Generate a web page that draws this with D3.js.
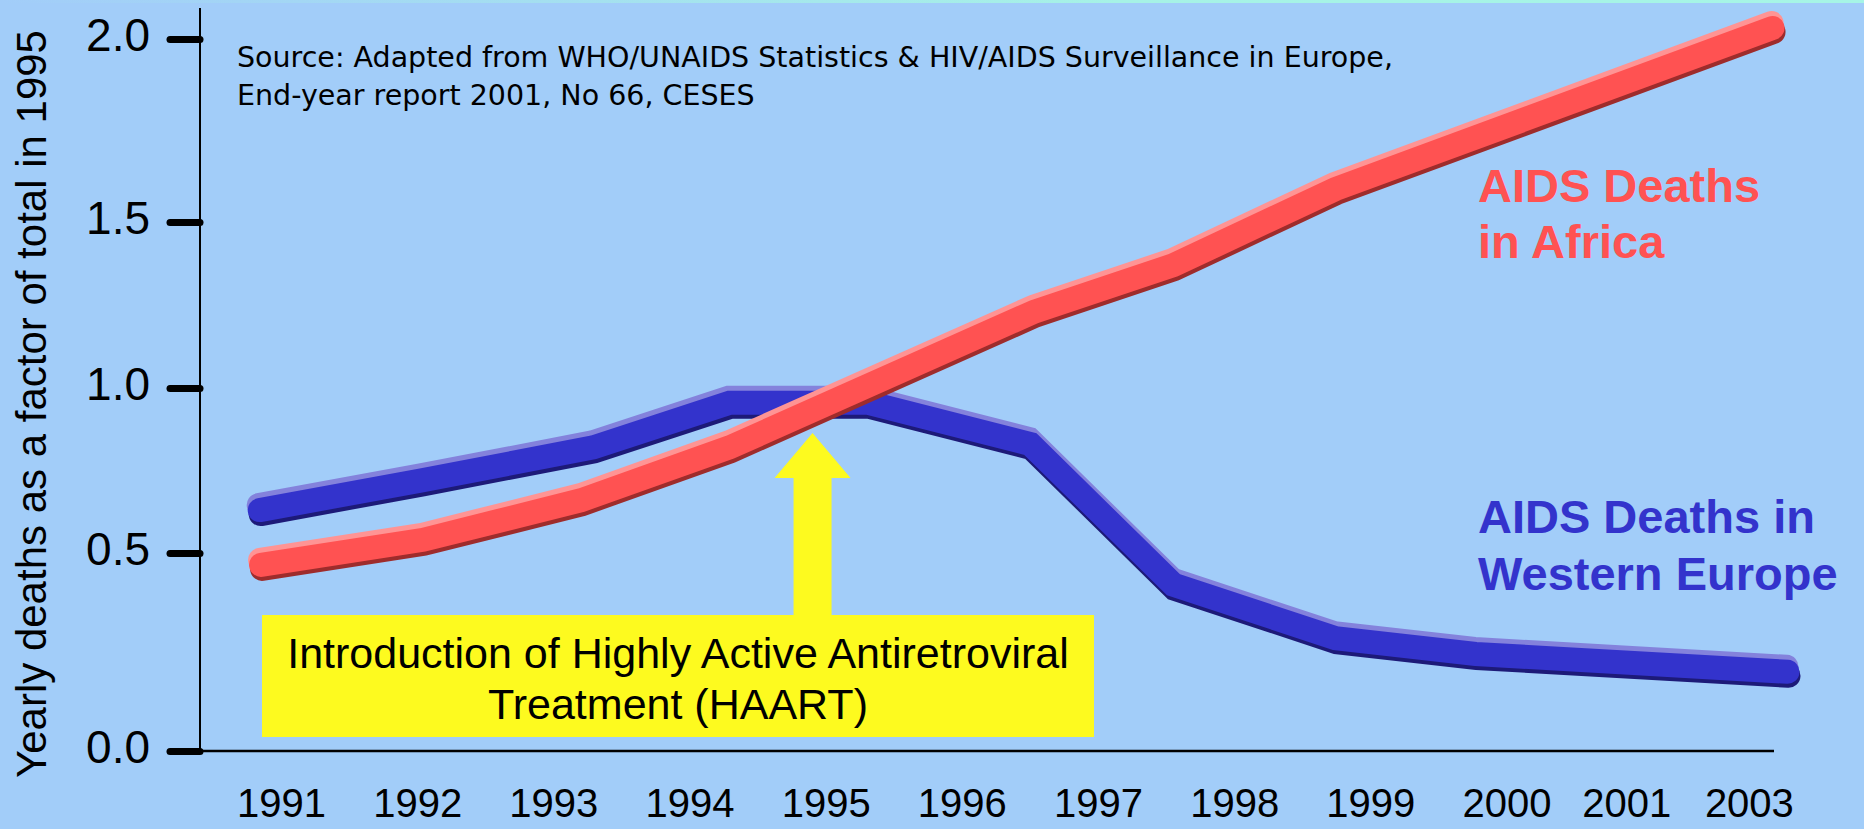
<!DOCTYPE html>
<html>
<head>
<meta charset="utf-8">
<script src="https://cdn.jsdelivr.net/npm/d3@7.9.0/dist/d3.min.js"></script>
<style>
  html, body { margin: 0; padding: 0; background: #a2cdf9; overflow: hidden; }
  svg { display: block; }
  .tick-label { font-family: "Liberation Sans", Arial, sans-serif; fill: #000; }
</style>
</head>
<body>
<div id="chart"></div>
<script>
// tick labels on the x axis (note: the original skips 2002)
const yearLabels = ["1991", "1992", "1993", "1994", "1995", "1996", "1997", "1998", "1999", "2000", "2001", "2003"];
// where each label sits, in years along the axis
const yearTicks = [1991, 1992, 1993, 1994, 1995, 1996, 1997, 1998, 1999, 2000, 2000.88, 2001.78];
const yTicks = [0, 0.5, 1.0, 1.5, 2.0];

// AIDS deaths in Africa, factor of 1995 total
const africaYears = [1990.85, 1992.04, 1993.2, 1994.29, 1996.53, 1997.55, 1998.74, 2001.95];
const africaValues = [0.47, 0.54, 0.66, 0.82, 1.23, 1.37, 1.59, 2.03];

// AIDS deaths in Western Europe
const europeYears = [1990.84, 1992.03, 1993.29, 1994.29, 1995.31, 1996.5, 1997.55, 1998.74, 1999.77, 2002.06];
const europeValues = [0.63, 0.72, 0.82, 0.955, 0.955, 0.83, 0.42, 0.285, 0.245, 0.20];

const haartYear = 1994.9;

const width = 1864;
const height = 829;

const svg = d3.select('#chart')
  .append('svg')
  .attr('width', width)
  .attr('height', height);

// background + thin band at the top
const defs = svg.append('defs');
const grad = defs.append('linearGradient').attr('id', 'topband');
grad.append('stop').attr('offset', '0%').attr('stop-color', '#a2cdf9');
grad.append('stop').attr('offset', '60%').attr('stop-color', '#a6f2e6');
grad.append('stop').attr('offset', '100%').attr('stop-color', '#a6f5e6');
svg.append('rect').attr('width', width).attr('height', height).attr('fill', '#a2cdf9');
svg.append('rect').attr('width', width).attr('height', 3).attr('fill', 'url(#topband)');

const x = d3.scaleLinear().domain([1991, 2000]).range([281.5, 1507]);
// the original's gridding is uneven, so the scale is piecewise
const y = d3.scaleLinear().domain(yTicks).range([751, 553, 388, 222, 39]);

const axisLeftX = 200;
const axisRightX = 1774;

// Y axis
const yAxis = svg.append('g')
  .attr('transform', `translate(${axisLeftX},0)`)
  .call(d3.axisLeft(y).tickValues(yTicks).tickFormat(d3.format('.1f')).tickSize(32).tickPadding(18));
yAxis.select('.domain').remove();
yAxis.selectAll('.tick line')
  .attr('stroke', '#000')
  .attr('stroke-width', 7)
  .attr('stroke-linecap', 'round')
  .attr('x2', -30);
yAxis.selectAll('.tick text')
  .attr('class', 'tick-label')
  .attr('font-size', 46)
  .attr('dy', '0.26em');

svg.append('line')
  .attr('x1', axisLeftX).attr('x2', axisLeftX)
  .attr('y1', 8).attr('y2', y(0))
  .attr('stroke', '#000').attr('stroke-width', 2);

// X axis line + year labels
svg.append('line')
  .attr('x1', axisLeftX).attr('x2', axisRightX)
  .attr('y1', y(0)).attr('y2', y(0))
  .attr('stroke', '#000').attr('stroke-width', 2.5);

svg.append('g')
  .selectAll('text')
  .data(yearLabels)
  .join('text')
  .attr('class', 'tick-label')
  .attr('x', (d, i) => x(yearTicks[i]))
  .attr('y', 817)
  .attr('text-anchor', 'middle')
  .attr('font-size', 40)
  .text((d) => d);

// Y axis title
svg.append('text')
  .attr('class', 'tick-label')
  .attr('transform', 'translate(46,404) rotate(-90)')
  .attr('text-anchor', 'middle')
  .attr('font-size', 42)
  .text('Yearly deaths as a factor of total in 1995');

// source note
const src = svg.append('text')
  .attr('font-family', '"DejaVu Sans", Verdana, sans-serif')
  .attr('font-size', 28.5)
  .attr('fill', '#000');
src.append('tspan').attr('x', 237).attr('y', 67)
  .text('Source: Adapted from WHO/UNAIDS Statistics & HIV/AIDS Surveillance in Europe,');
src.append('tspan').attr('x', 237).attr('y', 105)
  .text('End-year report 2001, No 66, CESES');

// HAART annotation: box + arrow
const boxL = 262, boxR = 1094, boxT = 615, boxB = 737;
svg.append('rect')
  .attr('x', boxL).attr('y', boxT)
  .attr('width', boxR - boxL).attr('height', boxB - boxT)
  .attr('fill', '#fdfa1f');

const ax = x(haartYear);
const arrow = d3.path();
arrow.moveTo(ax - 19, boxT);
arrow.lineTo(ax - 19, 478);
arrow.lineTo(ax - 38, 478);
arrow.lineTo(ax, 433);
arrow.lineTo(ax + 38, 478);
arrow.lineTo(ax + 19, 478);
arrow.lineTo(ax + 19, boxT);
arrow.closePath();
svg.append('path').attr('d', arrow.toString()).attr('fill', '#fdfa1f');

const note = svg.append('text')
  .attr('class', 'tick-label')
  .attr('font-size', 43)
  .attr('text-anchor', 'middle');
note.append('tspan').attr('x', (boxL + boxR) / 2).attr('y', 668)
  .text('Introduction of Highly Active Antiretroviral');
note.append('tspan').attr('x', (boxL + boxR) / 2).attr('y', 719)
  .text('Treatment (HAART)');

// embossed lines
const line = d3.line().x((d) => x(d[0])).y((d) => y(d[1]));

function drawSeries(years, values, colors) {
  const pts = years.map((yr, i) => [yr, values[i]]);
  const g = svg.append('g');
  const layers = [
    { color: colors.dark, dx: 1, dy: 4 },
    { color: colors.light, dx: -1, dy: -5 },
    { color: colors.main, dx: 0, dy: 0 },
  ];
  g.selectAll('path')
    .data(layers)
    .join('path')
    .attr('d', line(pts))
    .attr('transform', (d) => `translate(${d.dx},${d.dy})`)
    .attr('fill', 'none')
    .attr('stroke', (d) => d.color)
    .attr('stroke-width', 24)
    .attr('stroke-linecap', 'round')
    .attr('stroke-linejoin', 'miter');
}

drawSeries(europeYears, europeValues, { main: '#3333cc', light: '#8482dc', dark: '#1d1a78' });
drawSeries(africaYears, africaValues, { main: '#ff5252', light: '#ff9494', dark: '#9e2c2c' });

// series labels
const labelFont = '"Liberation Sans", Arial, sans-serif';
const afr = svg.append('text')
  .attr('font-family', labelFont).attr('font-weight', 'bold')
  .attr('font-size', 47).attr('fill', '#ff5252');
afr.append('tspan').attr('x', 1478).attr('y', 202).text('AIDS Deaths');
afr.append('tspan').attr('x', 1478).attr('y', 258).text('in Africa');

const eur = svg.append('text')
  .attr('font-family', labelFont).attr('font-weight', 'bold')
  .attr('font-size', 47).attr('fill', '#3333cc');
eur.append('tspan').attr('x', 1478).attr('y', 533).text('AIDS Deaths in');
eur.append('tspan').attr('x', 1478).attr('y', 590).text('Western Europe');
</script>
</body>
</html>
